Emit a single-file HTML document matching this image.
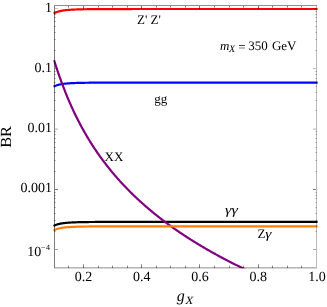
<!DOCTYPE html>
<html><head><meta charset="utf-8"><title>BR plot</title>
<style>
html,body{margin:0;padding:0;background:#fff;}
body{width:327px;height:307px;overflow:hidden;position:relative;font-family:"Liberation Serif",serif;}
</style></head><body>
<svg width="327" height="307" viewBox="0 0 327 307" style="position:absolute;left:0;top:0">
<rect width="327" height="307" fill="#fff"/>
<defs><clipPath id="cp"><rect x="53.3" y="5" width="264.5" height="263.2"/></clipPath></defs>
<g fill="none" stroke-width="2.2" stroke-linecap="butt" stroke-linejoin="round">
<path d="M53.60 13.58 L54.40 13.18 L55.05 12.84 L55.71 12.54 L56.36 12.27 L57.02 12.02 L57.67 11.79 L58.33 11.59 L58.98 11.40 L59.64 11.23 L60.29 11.07 L60.95 10.93 L61.60 10.80 L62.26 10.68 L62.91 10.57 L63.57 10.46 L64.22 10.37 L64.88 10.28 L65.53 10.20 L66.19 10.13 L66.84 10.06 L67.50 10.00 L68.15 9.94 L68.81 9.88 L69.46 9.83 L70.12 9.79 L70.77 9.74 L71.43 9.70 L72.08 9.66 L72.74 9.63 L73.39 9.60 L74.05 9.56 L74.70 9.54 L75.36 9.51 L76.01 9.48 L76.67 9.46 L77.32 9.44 L77.98 9.42 L78.63 9.40 L79.29 9.38 L79.94 9.36 L80.60 9.34 L81.25 9.33 L81.91 9.31 L82.56 9.30 L83.22 9.28 L83.87 9.27 L84.53 9.26 L85.18 9.25 L85.84 9.24 L86.49 9.23 L87.15 9.22 L87.80 9.21 L88.46 9.20 L89.11 9.19 L89.77 9.19 L90.42 9.18 L91.08 9.17 L91.73 9.16 L92.39 9.16 L93.04 9.15 L93.70 9.15 L94.35 9.14 L95.01 9.14 L95.66 9.13 L96.32 9.13 L96.97 9.12 L97.63 9.12 L98.28 9.11 L98.94 9.11 L99.59 9.11 L100.25 9.10 L100.90 9.10 L101.56 9.10 L102.21 9.09 L102.87 9.09 L103.52 9.09 L104.18 9.08 L104.83 9.08 L105.49 9.08 L106.14 9.08 L106.80 9.07 L107.45 9.07 L108.11 9.07 L108.76 9.07 L109.42 9.06 L110.07 9.06 L110.73 9.06 L111.38 9.06 L112.04 9.06 L112.69 9.06 L113.35 9.05 L114.00 9.05 L114.66 9.05 L115.31 9.05 L115.97 9.05 L116.62 9.05 L117.28 9.04 L117.93 9.04 L118.59 9.04 L119.24 9.04 L119.90 9.04 L120.55 9.04 L121.21 9.04 L121.86 9.04 L122.52 9.04 L123.17 9.04 L123.83 9.03 L124.48 9.03 L125.14 9.03 L125.79 9.03 L126.45 9.03 L127.10 9.03 L127.76 9.03 L128.41 9.03 L129.07 9.03 L129.72 9.03 L130.38 9.03 L131.03 9.03 L131.69 9.03 L132.34 9.02 L133.00 9.02 L133.65 9.02 L134.31 9.02 L134.96 9.02 L135.62 9.02 L136.27 9.02 L136.93 9.02 L137.58 9.02 L138.24 9.02 L138.89 9.02 L139.55 9.02 L140.20 9.02 L140.86 9.02 L141.51 9.02 L142.17 9.02 L142.82 9.02 L143.48 9.02 L144.13 9.02 L144.79 9.02 L145.44 9.02 L146.10 9.02 L146.75 9.01 L147.41 9.01 L148.06 9.01 L148.72 9.01 L149.37 9.01 L150.03 9.01 L150.68 9.01 L151.34 9.01 L151.99 9.01 L152.65 9.01 L153.30 9.01 L153.96 9.01 L154.61 9.01 L155.27 9.01 L155.92 9.01 L156.58 9.01 L157.23 9.01 L157.89 9.01 L158.54 9.01 L159.20 9.01 L159.85 9.01 L160.51 9.01 L161.16 9.01 L161.82 9.01 L162.47 9.01 L163.13 9.01 L163.78 9.01 L164.44 9.01 L165.09 9.01 L165.75 9.01 L166.40 9.01 L167.06 9.01 L167.71 9.01 L168.37 9.01 L169.02 9.01 L169.68 9.01 L170.33 9.01 L170.99 9.01 L171.64 9.01 L172.30 9.01 L172.95 9.01 L173.61 9.01 L174.26 9.01 L174.92 9.01 L175.57 9.01 L176.23 9.01 L176.88 9.01 L177.54 9.01 L178.19 9.01 L178.85 9.01 L179.50 9.01 L180.16 9.01 L180.81 9.01 L181.47 9.01 L182.12 9.01 L182.78 9.01 L183.43 9.01 L184.09 9.01 L184.74 9.00 L185.40 9.00 L186.05 9.00 L186.70 9.00 L187.36 9.00 L188.01 9.00 L188.67 9.00 L189.32 9.00 L189.98 9.00 L190.63 9.00 L191.29 9.00 L191.94 9.00 L192.60 9.00 L193.25 9.00 L193.91 9.00 L194.56 9.00 L195.22 9.00 L195.87 9.00 L196.53 9.00 L197.18 9.00 L197.84 9.00 L198.49 9.00 L199.15 9.00 L199.80 9.00 L200.46 9.00 L201.11 9.00 L201.77 9.00 L202.42 9.00 L203.08 9.00 L203.73 9.00 L204.39 9.00 L205.04 9.00 L205.70 9.00 L206.35 9.00 L207.01 9.00 L207.66 9.00 L208.32 9.00 L208.97 9.00 L209.63 9.00 L210.28 9.00 L210.94 9.00 L211.59 9.00 L212.25 9.00 L212.90 9.00 L213.56 9.00 L214.21 9.00 L214.87 9.00 L215.52 9.00 L216.18 9.00 L216.83 9.00 L217.49 9.00 L218.14 9.00 L218.80 9.00 L219.45 9.00 L220.11 9.00 L220.76 9.00 L221.42 9.00 L222.07 9.00 L222.73 9.00 L223.38 9.00 L224.04 9.00 L224.69 9.00 L225.35 9.00 L226.00 9.00 L226.66 9.00 L227.31 9.00 L227.97 9.00 L228.62 9.00 L229.28 9.00 L229.93 9.00 L230.59 9.00 L231.24 9.00 L231.90 9.00 L232.55 9.00 L233.21 9.00 L233.86 9.00 L234.52 9.00 L235.17 9.00 L235.83 9.00 L236.48 9.00 L237.14 9.00 L237.79 9.00 L238.45 9.00 L239.10 9.00 L239.76 9.00 L240.41 9.00 L241.07 9.00 L241.72 9.00 L242.38 9.00 L243.03 9.00 L243.69 9.00 L244.34 9.00 L245.00 9.00 L245.65 9.00 L246.31 9.00 L246.96 9.00 L247.62 9.00 L248.27 9.00 L248.93 9.00 L249.58 9.00 L250.24 9.00 L250.89 9.00 L251.55 9.00 L252.20 9.00 L252.86 9.00 L253.51 9.00 L254.17 9.00 L254.82 9.00 L255.48 9.00 L256.13 9.00 L256.79 9.00 L257.44 9.00 L258.10 9.00 L258.75 9.00 L259.41 9.00 L260.06 9.00 L260.72 9.00 L261.37 9.00 L262.03 9.00 L262.68 9.00 L263.34 9.00 L263.99 9.00 L264.65 9.00 L265.30 9.00 L265.96 9.00 L266.61 9.00 L267.27 9.00 L267.92 9.00 L268.58 9.00 L269.23 9.00 L269.89 9.00 L270.54 9.00 L271.20 9.00 L271.85 9.00 L272.51 9.00 L273.16 9.00 L273.82 9.00 L274.47 9.00 L275.13 9.00 L275.78 9.00 L276.44 9.00 L277.09 9.00 L277.75 9.00 L278.40 9.00 L279.06 9.00 L279.71 9.00 L280.37 9.00 L281.02 9.00 L281.68 9.00 L282.33 9.00 L282.99 9.00 L283.64 9.00 L284.30 9.00 L284.95 9.00 L285.61 9.00 L286.26 9.00 L286.92 9.00 L287.57 9.00 L288.23 9.00 L288.88 9.00 L289.54 9.00 L290.19 9.00 L290.85 9.00 L291.50 9.00 L292.16 9.00 L292.81 9.00 L293.47 9.00 L294.12 9.00 L294.78 9.00 L295.43 9.00 L296.09 9.00 L296.74 9.00 L297.40 9.00 L298.05 9.00 L298.71 9.00 L299.36 9.00 L300.02 9.00 L300.67 9.00 L301.33 9.00 L301.98 9.00 L302.64 9.00 L303.29 9.00 L303.95 9.00 L304.60 9.00 L305.26 9.00 L305.91 9.00 L306.57 9.00 L307.22 9.00 L307.88 9.00 L308.53 9.00 L309.19 9.00 L309.84 9.00 L310.50 9.00 L311.15 9.00 L311.81 9.00 L312.46 9.00 L313.12 9.00 L313.77 9.00 L314.43 9.00 L315.08 9.00 L315.74 9.00 L316.39 9.00 L317.60 9.00" stroke="#ff0000"/>
<path d="M53.60 86.64 L54.40 86.28 L55.05 85.98 L55.71 85.71 L56.36 85.47 L57.02 85.24 L57.67 85.04 L58.33 84.86 L58.98 84.69 L59.64 84.54 L60.29 84.40 L60.95 84.27 L61.60 84.15 L62.26 84.05 L62.91 83.95 L63.57 83.86 L64.22 83.77 L64.88 83.70 L65.53 83.62 L66.19 83.56 L66.84 83.50 L67.50 83.44 L68.15 83.39 L68.81 83.34 L69.46 83.29 L70.12 83.25 L70.77 83.21 L71.43 83.18 L72.08 83.14 L72.74 83.11 L73.39 83.08 L74.05 83.05 L74.70 83.03 L75.36 83.00 L76.01 82.98 L76.67 82.96 L77.32 82.94 L77.98 82.92 L78.63 82.90 L79.29 82.89 L79.94 82.87 L80.60 82.86 L81.25 82.84 L81.91 82.83 L82.56 82.82 L83.22 82.80 L83.87 82.79 L84.53 82.78 L85.18 82.77 L85.84 82.76 L86.49 82.75 L87.15 82.75 L87.80 82.74 L88.46 82.73 L89.11 82.72 L89.77 82.72 L90.42 82.71 L91.08 82.70 L91.73 82.70 L92.39 82.69 L93.04 82.69 L93.70 82.68 L94.35 82.68 L95.01 82.67 L95.66 82.67 L96.32 82.66 L96.97 82.66 L97.63 82.65 L98.28 82.65 L98.94 82.65 L99.59 82.64 L100.25 82.64 L100.90 82.64 L101.56 82.63 L102.21 82.63 L102.87 82.63 L103.52 82.63 L104.18 82.62 L104.83 82.62 L105.49 82.62 L106.14 82.62 L106.80 82.62 L107.45 82.61 L108.11 82.61 L108.76 82.61 L109.42 82.61 L110.07 82.61 L110.73 82.60 L111.38 82.60 L112.04 82.60 L112.69 82.60 L113.35 82.60 L114.00 82.60 L114.66 82.60 L115.31 82.59 L115.97 82.59 L116.62 82.59 L117.28 82.59 L117.93 82.59 L118.59 82.59 L119.24 82.59 L119.90 82.59 L120.55 82.58 L121.21 82.58 L121.86 82.58 L122.52 82.58 L123.17 82.58 L123.83 82.58 L124.48 82.58 L125.14 82.58 L125.79 82.58 L126.45 82.58 L127.10 82.58 L127.76 82.58 L128.41 82.58 L129.07 82.57 L129.72 82.57 L130.38 82.57 L131.03 82.57 L131.69 82.57 L132.34 82.57 L133.00 82.57 L133.65 82.57 L134.31 82.57 L134.96 82.57 L135.62 82.57 L136.27 82.57 L136.93 82.57 L137.58 82.57 L138.24 82.57 L138.89 82.57 L139.55 82.57 L140.20 82.57 L140.86 82.57 L141.51 82.57 L142.17 82.57 L142.82 82.57 L143.48 82.56 L144.13 82.56 L144.79 82.56 L145.44 82.56 L146.10 82.56 L146.75 82.56 L147.41 82.56 L148.06 82.56 L148.72 82.56 L149.37 82.56 L150.03 82.56 L150.68 82.56 L151.34 82.56 L151.99 82.56 L152.65 82.56 L153.30 82.56 L153.96 82.56 L154.61 82.56 L155.27 82.56 L155.92 82.56 L156.58 82.56 L157.23 82.56 L157.89 82.56 L158.54 82.56 L159.20 82.56 L159.85 82.56 L160.51 82.56 L161.16 82.56 L161.82 82.56 L162.47 82.56 L163.13 82.56 L163.78 82.56 L164.44 82.56 L165.09 82.56 L165.75 82.56 L166.40 82.56 L167.06 82.56 L167.71 82.56 L168.37 82.56 L169.02 82.56 L169.68 82.56 L170.33 82.56 L170.99 82.56 L171.64 82.56 L172.30 82.56 L172.95 82.56 L173.61 82.56 L174.26 82.56 L174.92 82.56 L175.57 82.56 L176.23 82.56 L176.88 82.56 L177.54 82.56 L178.19 82.56 L178.85 82.56 L179.50 82.56 L180.16 82.56 L180.81 82.55 L181.47 82.55 L182.12 82.55 L182.78 82.55 L183.43 82.55 L184.09 82.55 L184.74 82.55 L185.40 82.55 L186.05 82.55 L186.70 82.55 L187.36 82.55 L188.01 82.55 L188.67 82.55 L189.32 82.55 L189.98 82.55 L190.63 82.55 L191.29 82.55 L191.94 82.55 L192.60 82.55 L193.25 82.55 L193.91 82.55 L194.56 82.55 L195.22 82.55 L195.87 82.55 L196.53 82.55 L197.18 82.55 L197.84 82.55 L198.49 82.55 L199.15 82.55 L199.80 82.55 L200.46 82.55 L201.11 82.55 L201.77 82.55 L202.42 82.55 L203.08 82.55 L203.73 82.55 L204.39 82.55 L205.04 82.55 L205.70 82.55 L206.35 82.55 L207.01 82.55 L207.66 82.55 L208.32 82.55 L208.97 82.55 L209.63 82.55 L210.28 82.55 L210.94 82.55 L211.59 82.55 L212.25 82.55 L212.90 82.55 L213.56 82.55 L214.21 82.55 L214.87 82.55 L215.52 82.55 L216.18 82.55 L216.83 82.55 L217.49 82.55 L218.14 82.55 L218.80 82.55 L219.45 82.55 L220.11 82.55 L220.76 82.55 L221.42 82.55 L222.07 82.55 L222.73 82.55 L223.38 82.55 L224.04 82.55 L224.69 82.55 L225.35 82.55 L226.00 82.55 L226.66 82.55 L227.31 82.55 L227.97 82.55 L228.62 82.55 L229.28 82.55 L229.93 82.55 L230.59 82.55 L231.24 82.55 L231.90 82.55 L232.55 82.55 L233.21 82.55 L233.86 82.55 L234.52 82.55 L235.17 82.55 L235.83 82.55 L236.48 82.55 L237.14 82.55 L237.79 82.55 L238.45 82.55 L239.10 82.55 L239.76 82.55 L240.41 82.55 L241.07 82.55 L241.72 82.55 L242.38 82.55 L243.03 82.55 L243.69 82.55 L244.34 82.55 L245.00 82.55 L245.65 82.55 L246.31 82.55 L246.96 82.55 L247.62 82.55 L248.27 82.55 L248.93 82.55 L249.58 82.55 L250.24 82.55 L250.89 82.55 L251.55 82.55 L252.20 82.55 L252.86 82.55 L253.51 82.55 L254.17 82.55 L254.82 82.55 L255.48 82.55 L256.13 82.55 L256.79 82.55 L257.44 82.55 L258.10 82.55 L258.75 82.55 L259.41 82.55 L260.06 82.55 L260.72 82.55 L261.37 82.55 L262.03 82.55 L262.68 82.55 L263.34 82.55 L263.99 82.55 L264.65 82.55 L265.30 82.55 L265.96 82.55 L266.61 82.55 L267.27 82.55 L267.92 82.55 L268.58 82.55 L269.23 82.55 L269.89 82.55 L270.54 82.55 L271.20 82.55 L271.85 82.55 L272.51 82.55 L273.16 82.55 L273.82 82.55 L274.47 82.55 L275.13 82.55 L275.78 82.55 L276.44 82.55 L277.09 82.55 L277.75 82.55 L278.40 82.55 L279.06 82.55 L279.71 82.55 L280.37 82.55 L281.02 82.55 L281.68 82.55 L282.33 82.55 L282.99 82.55 L283.64 82.55 L284.30 82.55 L284.95 82.55 L285.61 82.55 L286.26 82.55 L286.92 82.55 L287.57 82.55 L288.23 82.55 L288.88 82.55 L289.54 82.55 L290.19 82.55 L290.85 82.55 L291.50 82.55 L292.16 82.55 L292.81 82.55 L293.47 82.55 L294.12 82.55 L294.78 82.55 L295.43 82.55 L296.09 82.55 L296.74 82.55 L297.40 82.55 L298.05 82.55 L298.71 82.55 L299.36 82.55 L300.02 82.55 L300.67 82.55 L301.33 82.55 L301.98 82.55 L302.64 82.55 L303.29 82.55 L303.95 82.55 L304.60 82.55 L305.26 82.55 L305.91 82.55 L306.57 82.55 L307.22 82.55 L307.88 82.55 L308.53 82.55 L309.19 82.55 L309.84 82.55 L310.50 82.55 L311.15 82.55 L311.81 82.55 L312.46 82.55 L313.12 82.55 L313.77 82.55 L314.43 82.55 L315.08 82.55 L315.74 82.55 L316.39 82.55 L317.60 82.55" stroke="#0000ff"/>
<path d="M53.60 225.94 L54.40 225.58 L55.05 225.28 L55.71 225.01 L56.36 224.77 L57.02 224.54 L57.67 224.34 L58.33 224.16 L58.98 223.99 L59.64 223.84 L60.29 223.70 L60.95 223.57 L61.60 223.45 L62.26 223.35 L62.91 223.25 L63.57 223.16 L64.22 223.07 L64.88 223.00 L65.53 222.92 L66.19 222.86 L66.84 222.80 L67.50 222.74 L68.15 222.69 L68.81 222.64 L69.46 222.59 L70.12 222.55 L70.77 222.51 L71.43 222.48 L72.08 222.44 L72.74 222.41 L73.39 222.38 L74.05 222.35 L74.70 222.33 L75.36 222.30 L76.01 222.28 L76.67 222.26 L77.32 222.24 L77.98 222.22 L78.63 222.20 L79.29 222.19 L79.94 222.17 L80.60 222.16 L81.25 222.14 L81.91 222.13 L82.56 222.12 L83.22 222.10 L83.87 222.09 L84.53 222.08 L85.18 222.07 L85.84 222.06 L86.49 222.05 L87.15 222.05 L87.80 222.04 L88.46 222.03 L89.11 222.02 L89.77 222.02 L90.42 222.01 L91.08 222.00 L91.73 222.00 L92.39 221.99 L93.04 221.99 L93.70 221.98 L94.35 221.98 L95.01 221.97 L95.66 221.97 L96.32 221.96 L96.97 221.96 L97.63 221.95 L98.28 221.95 L98.94 221.95 L99.59 221.94 L100.25 221.94 L100.90 221.94 L101.56 221.93 L102.21 221.93 L102.87 221.93 L103.52 221.93 L104.18 221.92 L104.83 221.92 L105.49 221.92 L106.14 221.92 L106.80 221.92 L107.45 221.91 L108.11 221.91 L108.76 221.91 L109.42 221.91 L110.07 221.91 L110.73 221.90 L111.38 221.90 L112.04 221.90 L112.69 221.90 L113.35 221.90 L114.00 221.90 L114.66 221.90 L115.31 221.89 L115.97 221.89 L116.62 221.89 L117.28 221.89 L117.93 221.89 L118.59 221.89 L119.24 221.89 L119.90 221.89 L120.55 221.88 L121.21 221.88 L121.86 221.88 L122.52 221.88 L123.17 221.88 L123.83 221.88 L124.48 221.88 L125.14 221.88 L125.79 221.88 L126.45 221.88 L127.10 221.88 L127.76 221.88 L128.41 221.88 L129.07 221.87 L129.72 221.87 L130.38 221.87 L131.03 221.87 L131.69 221.87 L132.34 221.87 L133.00 221.87 L133.65 221.87 L134.31 221.87 L134.96 221.87 L135.62 221.87 L136.27 221.87 L136.93 221.87 L137.58 221.87 L138.24 221.87 L138.89 221.87 L139.55 221.87 L140.20 221.87 L140.86 221.87 L141.51 221.87 L142.17 221.87 L142.82 221.87 L143.48 221.86 L144.13 221.86 L144.79 221.86 L145.44 221.86 L146.10 221.86 L146.75 221.86 L147.41 221.86 L148.06 221.86 L148.72 221.86 L149.37 221.86 L150.03 221.86 L150.68 221.86 L151.34 221.86 L151.99 221.86 L152.65 221.86 L153.30 221.86 L153.96 221.86 L154.61 221.86 L155.27 221.86 L155.92 221.86 L156.58 221.86 L157.23 221.86 L157.89 221.86 L158.54 221.86 L159.20 221.86 L159.85 221.86 L160.51 221.86 L161.16 221.86 L161.82 221.86 L162.47 221.86 L163.13 221.86 L163.78 221.86 L164.44 221.86 L165.09 221.86 L165.75 221.86 L166.40 221.86 L167.06 221.86 L167.71 221.86 L168.37 221.86 L169.02 221.86 L169.68 221.86 L170.33 221.86 L170.99 221.86 L171.64 221.86 L172.30 221.86 L172.95 221.86 L173.61 221.86 L174.26 221.86 L174.92 221.86 L175.57 221.86 L176.23 221.86 L176.88 221.86 L177.54 221.86 L178.19 221.86 L178.85 221.86 L179.50 221.86 L180.16 221.86 L180.81 221.85 L181.47 221.85 L182.12 221.85 L182.78 221.85 L183.43 221.85 L184.09 221.85 L184.74 221.85 L185.40 221.85 L186.05 221.85 L186.70 221.85 L187.36 221.85 L188.01 221.85 L188.67 221.85 L189.32 221.85 L189.98 221.85 L190.63 221.85 L191.29 221.85 L191.94 221.85 L192.60 221.85 L193.25 221.85 L193.91 221.85 L194.56 221.85 L195.22 221.85 L195.87 221.85 L196.53 221.85 L197.18 221.85 L197.84 221.85 L198.49 221.85 L199.15 221.85 L199.80 221.85 L200.46 221.85 L201.11 221.85 L201.77 221.85 L202.42 221.85 L203.08 221.85 L203.73 221.85 L204.39 221.85 L205.04 221.85 L205.70 221.85 L206.35 221.85 L207.01 221.85 L207.66 221.85 L208.32 221.85 L208.97 221.85 L209.63 221.85 L210.28 221.85 L210.94 221.85 L211.59 221.85 L212.25 221.85 L212.90 221.85 L213.56 221.85 L214.21 221.85 L214.87 221.85 L215.52 221.85 L216.18 221.85 L216.83 221.85 L217.49 221.85 L218.14 221.85 L218.80 221.85 L219.45 221.85 L220.11 221.85 L220.76 221.85 L221.42 221.85 L222.07 221.85 L222.73 221.85 L223.38 221.85 L224.04 221.85 L224.69 221.85 L225.35 221.85 L226.00 221.85 L226.66 221.85 L227.31 221.85 L227.97 221.85 L228.62 221.85 L229.28 221.85 L229.93 221.85 L230.59 221.85 L231.24 221.85 L231.90 221.85 L232.55 221.85 L233.21 221.85 L233.86 221.85 L234.52 221.85 L235.17 221.85 L235.83 221.85 L236.48 221.85 L237.14 221.85 L237.79 221.85 L238.45 221.85 L239.10 221.85 L239.76 221.85 L240.41 221.85 L241.07 221.85 L241.72 221.85 L242.38 221.85 L243.03 221.85 L243.69 221.85 L244.34 221.85 L245.00 221.85 L245.65 221.85 L246.31 221.85 L246.96 221.85 L247.62 221.85 L248.27 221.85 L248.93 221.85 L249.58 221.85 L250.24 221.85 L250.89 221.85 L251.55 221.85 L252.20 221.85 L252.86 221.85 L253.51 221.85 L254.17 221.85 L254.82 221.85 L255.48 221.85 L256.13 221.85 L256.79 221.85 L257.44 221.85 L258.10 221.85 L258.75 221.85 L259.41 221.85 L260.06 221.85 L260.72 221.85 L261.37 221.85 L262.03 221.85 L262.68 221.85 L263.34 221.85 L263.99 221.85 L264.65 221.85 L265.30 221.85 L265.96 221.85 L266.61 221.85 L267.27 221.85 L267.92 221.85 L268.58 221.85 L269.23 221.85 L269.89 221.85 L270.54 221.85 L271.20 221.85 L271.85 221.85 L272.51 221.85 L273.16 221.85 L273.82 221.85 L274.47 221.85 L275.13 221.85 L275.78 221.85 L276.44 221.85 L277.09 221.85 L277.75 221.85 L278.40 221.85 L279.06 221.85 L279.71 221.85 L280.37 221.85 L281.02 221.85 L281.68 221.85 L282.33 221.85 L282.99 221.85 L283.64 221.85 L284.30 221.85 L284.95 221.85 L285.61 221.85 L286.26 221.85 L286.92 221.85 L287.57 221.85 L288.23 221.85 L288.88 221.85 L289.54 221.85 L290.19 221.85 L290.85 221.85 L291.50 221.85 L292.16 221.85 L292.81 221.85 L293.47 221.85 L294.12 221.85 L294.78 221.85 L295.43 221.85 L296.09 221.85 L296.74 221.85 L297.40 221.85 L298.05 221.85 L298.71 221.85 L299.36 221.85 L300.02 221.85 L300.67 221.85 L301.33 221.85 L301.98 221.85 L302.64 221.85 L303.29 221.85 L303.95 221.85 L304.60 221.85 L305.26 221.85 L305.91 221.85 L306.57 221.85 L307.22 221.85 L307.88 221.85 L308.53 221.85 L309.19 221.85 L309.84 221.85 L310.50 221.85 L311.15 221.85 L311.81 221.85 L312.46 221.85 L313.12 221.85 L313.77 221.85 L314.43 221.85 L315.08 221.85 L315.74 221.85 L316.39 221.85 L317.60 221.85" stroke="#000000"/>
<path d="M54.05 60.20 L54.40 61.29 L54.88 62.78 L55.36 64.27 L55.84 65.73 L56.32 67.19 L56.80 68.63 L57.28 70.06 L57.76 71.48 L58.24 72.88 L58.72 74.27 L59.20 75.65 L59.68 77.01 L60.16 78.36 L60.64 79.70 L61.12 81.02 L61.60 82.33 L62.09 83.63 L62.57 84.91 L63.05 86.18 L63.53 87.44 L64.01 88.69 L64.49 89.92 L64.97 91.14 L65.45 92.35 L65.93 93.54 L66.41 94.73 L66.89 95.90 L67.37 97.06 L67.85 98.21 L68.33 99.35 L68.81 100.48 L69.29 101.59 L69.77 102.70 L70.25 103.79 L70.73 104.88 L71.21 105.95 L71.69 107.02 L72.17 108.07 L72.65 109.12 L73.13 110.15 L73.61 111.18 L74.09 112.19 L74.57 113.20 L75.05 114.20 L75.53 115.18 L76.01 116.17 L76.49 117.14 L76.97 118.10 L77.46 119.05 L77.94 120.00 L78.42 120.94 L78.90 121.87 L79.38 122.79 L79.86 123.71 L80.34 124.61 L80.82 125.51 L81.30 126.40 L81.78 127.29 L82.26 128.17 L82.74 129.04 L83.22 129.90 L83.70 130.76 L84.18 131.61 L84.66 132.45 L85.14 133.29 L85.62 134.12 L86.10 134.94 L86.58 135.76 L87.06 136.57 L87.54 137.38 L88.02 138.18 L88.50 138.97 L88.98 139.76 L89.46 140.54 L89.94 141.31 L90.42 142.09 L90.90 142.85 L91.38 143.61 L91.86 144.36 L92.34 145.11 L92.83 145.86 L93.31 146.60 L93.79 147.33 L94.27 148.06 L94.75 148.78 L95.23 149.50 L95.71 150.21 L96.19 150.92 L96.67 151.63 L97.15 152.33 L97.63 153.02 L98.11 153.71 L98.59 154.40 L99.07 155.08 L99.55 155.76 L100.03 156.43 L100.51 157.10 L100.99 157.76 L101.47 158.42 L101.95 159.08 L102.43 159.73 L102.91 160.38 L103.39 161.02 L103.87 161.66 L104.35 162.30 L104.83 162.93 L105.31 163.56 L105.79 164.19 L106.27 164.81 L106.75 165.43 L107.23 166.04 L107.71 166.65 L108.20 167.26 L108.68 167.86 L109.16 168.46 L109.64 169.06 L110.12 169.65 L110.60 170.24 L111.08 170.83 L111.56 171.41 L112.04 171.99 L112.52 172.57 L113.00 173.15 L113.48 173.72 L113.96 174.29 L114.44 174.85 L114.92 175.41 L115.40 175.97 L115.88 176.53 L116.36 177.08 L116.84 177.63 L117.32 178.18 L117.80 178.72 L118.28 179.26 L118.76 179.80 L119.24 180.34 L119.72 180.87 L120.20 181.40 L120.68 181.93 L121.16 182.46 L121.64 182.98 L122.12 183.50 L122.60 184.02 L123.09 184.53 L123.57 185.04 L124.05 185.55 L124.53 186.06 L125.01 186.57 L125.49 187.07 L125.97 187.57 L126.45 188.07 L126.93 188.56 L127.41 189.06 L127.89 189.55 L128.37 190.04 L128.85 190.52 L129.33 191.01 L129.81 191.49 L130.29 191.97 L130.77 192.45 L131.25 192.92 L131.73 193.40 L132.21 193.87 L132.69 194.34 L133.17 194.80 L133.65 195.27 L134.13 195.73 L134.61 196.19 L135.09 196.65 L135.57 197.11 L136.05 197.56 L136.53 198.02 L137.01 198.47 L137.49 198.92 L137.97 199.36 L138.46 199.81 L138.94 200.25 L139.42 200.69 L139.90 201.13 L140.38 201.57 L140.86 202.01 L141.34 202.44 L141.82 202.87 L142.30 203.30 L142.78 203.73 L143.26 204.16 L143.74 204.59 L144.22 205.01 L144.70 205.43 L145.18 205.85 L145.66 206.27 L146.14 206.69 L146.62 207.10 L147.10 207.52 L147.58 207.93 L148.06 208.34 L148.54 208.75 L149.02 209.16 L149.50 209.56 L149.98 209.96 L150.46 210.37 L150.94 210.77 L151.42 211.17 L151.90 211.57 L152.38 211.96 L152.86 212.36 L153.34 212.75 L153.83 213.14 L154.31 213.53 L154.79 213.92 L155.27 214.31 L155.75 214.70 L156.23 215.08 L156.71 215.46 L157.19 215.85 L157.67 216.23 L158.15 216.61 L158.63 216.98 L159.11 217.36 L159.59 217.74 L160.07 218.11 L160.55 218.48 L161.03 218.85 L161.51 219.22 L161.99 219.59 L162.47 219.96 L162.95 220.33 L163.43 220.69 L163.91 221.05 L164.39 221.42 L164.87 221.78 L165.35 222.14 L165.83 222.50 L166.31 222.85 L166.79 223.21 L167.27 223.56 L167.75 223.92 L168.23 224.27 L168.71 224.62 L169.20 224.97 L169.68 225.32 L170.16 225.67 L170.64 226.01 L171.12 226.36 L171.60 226.70 L172.08 227.05 L172.56 227.39 L173.04 227.73 L173.52 228.07 L174.00 228.41 L174.48 228.75 L174.96 229.08 L175.44 229.42 L175.92 229.75 L176.40 230.09 L176.88 230.42 L177.36 230.75 L177.84 231.08 L178.32 231.41 L178.80 231.74 L179.28 232.07 L179.76 232.39 L180.24 232.72 L180.72 233.04 L181.20 233.36 L181.68 233.69 L182.16 234.01 L182.64 234.33 L183.12 234.65 L183.60 234.97 L184.09 235.28 L184.57 235.60 L185.05 235.91 L185.53 236.23 L186.01 236.54 L186.49 236.85 L186.97 237.17 L187.45 237.48 L187.93 237.79 L188.41 238.10 L188.89 238.40 L189.37 238.71 L189.85 239.02 L190.33 239.32 L190.81 239.63 L191.29 239.93 L191.77 240.23 L192.25 240.53 L192.73 240.84 L193.21 241.14 L193.69 241.43 L194.17 241.73 L194.65 242.03 L195.13 242.33 L195.61 242.62 L196.09 242.92 L196.57 243.21 L197.05 243.50 L197.53 243.80 L198.01 244.09 L198.49 244.38 L198.97 244.67 L199.46 244.96 L199.94 245.25 L200.42 245.54 L200.90 245.82 L201.38 246.11 L201.86 246.39 L202.34 246.68 L202.82 246.96 L203.30 247.24 L203.78 247.53 L204.26 247.81 L204.74 248.09 L205.22 248.37 L205.70 248.65 L206.18 248.93 L206.66 249.20 L207.14 249.48 L207.62 249.76 L208.10 250.03 L208.58 250.31 L209.06 250.58 L209.54 250.86 L210.02 251.13 L210.50 251.40 L210.98 251.67 L211.46 251.94 L211.94 252.21 L212.42 252.48 L212.90 252.75 L213.38 253.02 L213.86 253.28 L214.34 253.55 L214.83 253.82 L215.31 254.08 L215.79 254.35 L216.27 254.61 L216.75 254.87 L217.23 255.14 L217.71 255.40 L218.19 255.66 L218.67 255.92 L219.15 256.18 L219.63 256.44 L220.11 256.70 L220.59 256.95 L221.07 257.21 L221.55 257.47 L222.03 257.72 L222.51 257.98 L222.99 258.24 L223.47 258.49 L223.95 258.74 L224.43 259.00 L224.91 259.25 L225.39 259.50 L225.87 259.75 L226.35 260.00 L226.83 260.25 L227.31 260.50 L227.79 260.75 L228.27 261.00 L228.75 261.25 L229.23 261.49 L229.71 261.74 L230.20 261.98 L230.68 262.23 L231.16 262.47 L231.64 262.72 L232.12 262.96 L232.60 263.20 L233.08 263.45 L233.56 263.69 L234.04 263.93 L234.52 264.17 L235.00 264.41 L235.48 264.65 L235.96 264.89 L236.44 265.13 L236.92 265.37 L237.40 265.60 L237.88 265.84 L238.36 266.08 L238.84 266.31 L239.32 266.55 L239.80 266.78 L240.28 267.02 L240.76 267.25 L241.24 267.48 L241.72 267.72 L242.20 267.95 L242.68 268.18 L243.16 268.41 L243.64 268.64 L244.12 268.87 L244.60 269.10 L245.09 269.33 L245.57 269.56 L246.05 269.79 L246.53 270.02" stroke="#800080" clip-path="url(#cp)"/>
<path d="M53.60 230.39 L54.40 230.03 L55.05 229.73 L55.71 229.46 L56.36 229.22 L57.02 228.99 L57.67 228.79 L58.33 228.61 L58.98 228.44 L59.64 228.29 L60.29 228.15 L60.95 228.02 L61.60 227.90 L62.26 227.80 L62.91 227.70 L63.57 227.61 L64.22 227.52 L64.88 227.45 L65.53 227.37 L66.19 227.31 L66.84 227.25 L67.50 227.19 L68.15 227.14 L68.81 227.09 L69.46 227.04 L70.12 227.00 L70.77 226.96 L71.43 226.93 L72.08 226.89 L72.74 226.86 L73.39 226.83 L74.05 226.80 L74.70 226.78 L75.36 226.75 L76.01 226.73 L76.67 226.71 L77.32 226.69 L77.98 226.67 L78.63 226.65 L79.29 226.64 L79.94 226.62 L80.60 226.61 L81.25 226.59 L81.91 226.58 L82.56 226.57 L83.22 226.55 L83.87 226.54 L84.53 226.53 L85.18 226.52 L85.84 226.51 L86.49 226.50 L87.15 226.50 L87.80 226.49 L88.46 226.48 L89.11 226.47 L89.77 226.47 L90.42 226.46 L91.08 226.45 L91.73 226.45 L92.39 226.44 L93.04 226.44 L93.70 226.43 L94.35 226.43 L95.01 226.42 L95.66 226.42 L96.32 226.41 L96.97 226.41 L97.63 226.40 L98.28 226.40 L98.94 226.40 L99.59 226.39 L100.25 226.39 L100.90 226.39 L101.56 226.38 L102.21 226.38 L102.87 226.38 L103.52 226.38 L104.18 226.37 L104.83 226.37 L105.49 226.37 L106.14 226.37 L106.80 226.37 L107.45 226.36 L108.11 226.36 L108.76 226.36 L109.42 226.36 L110.07 226.36 L110.73 226.35 L111.38 226.35 L112.04 226.35 L112.69 226.35 L113.35 226.35 L114.00 226.35 L114.66 226.35 L115.31 226.34 L115.97 226.34 L116.62 226.34 L117.28 226.34 L117.93 226.34 L118.59 226.34 L119.24 226.34 L119.90 226.34 L120.55 226.33 L121.21 226.33 L121.86 226.33 L122.52 226.33 L123.17 226.33 L123.83 226.33 L124.48 226.33 L125.14 226.33 L125.79 226.33 L126.45 226.33 L127.10 226.33 L127.76 226.33 L128.41 226.33 L129.07 226.32 L129.72 226.32 L130.38 226.32 L131.03 226.32 L131.69 226.32 L132.34 226.32 L133.00 226.32 L133.65 226.32 L134.31 226.32 L134.96 226.32 L135.62 226.32 L136.27 226.32 L136.93 226.32 L137.58 226.32 L138.24 226.32 L138.89 226.32 L139.55 226.32 L140.20 226.32 L140.86 226.32 L141.51 226.32 L142.17 226.32 L142.82 226.32 L143.48 226.31 L144.13 226.31 L144.79 226.31 L145.44 226.31 L146.10 226.31 L146.75 226.31 L147.41 226.31 L148.06 226.31 L148.72 226.31 L149.37 226.31 L150.03 226.31 L150.68 226.31 L151.34 226.31 L151.99 226.31 L152.65 226.31 L153.30 226.31 L153.96 226.31 L154.61 226.31 L155.27 226.31 L155.92 226.31 L156.58 226.31 L157.23 226.31 L157.89 226.31 L158.54 226.31 L159.20 226.31 L159.85 226.31 L160.51 226.31 L161.16 226.31 L161.82 226.31 L162.47 226.31 L163.13 226.31 L163.78 226.31 L164.44 226.31 L165.09 226.31 L165.75 226.31 L166.40 226.31 L167.06 226.31 L167.71 226.31 L168.37 226.31 L169.02 226.31 L169.68 226.31 L170.33 226.31 L170.99 226.31 L171.64 226.31 L172.30 226.31 L172.95 226.31 L173.61 226.31 L174.26 226.31 L174.92 226.31 L175.57 226.31 L176.23 226.31 L176.88 226.31 L177.54 226.31 L178.19 226.31 L178.85 226.31 L179.50 226.31 L180.16 226.31 L180.81 226.30 L181.47 226.30 L182.12 226.30 L182.78 226.30 L183.43 226.30 L184.09 226.30 L184.74 226.30 L185.40 226.30 L186.05 226.30 L186.70 226.30 L187.36 226.30 L188.01 226.30 L188.67 226.30 L189.32 226.30 L189.98 226.30 L190.63 226.30 L191.29 226.30 L191.94 226.30 L192.60 226.30 L193.25 226.30 L193.91 226.30 L194.56 226.30 L195.22 226.30 L195.87 226.30 L196.53 226.30 L197.18 226.30 L197.84 226.30 L198.49 226.30 L199.15 226.30 L199.80 226.30 L200.46 226.30 L201.11 226.30 L201.77 226.30 L202.42 226.30 L203.08 226.30 L203.73 226.30 L204.39 226.30 L205.04 226.30 L205.70 226.30 L206.35 226.30 L207.01 226.30 L207.66 226.30 L208.32 226.30 L208.97 226.30 L209.63 226.30 L210.28 226.30 L210.94 226.30 L211.59 226.30 L212.25 226.30 L212.90 226.30 L213.56 226.30 L214.21 226.30 L214.87 226.30 L215.52 226.30 L216.18 226.30 L216.83 226.30 L217.49 226.30 L218.14 226.30 L218.80 226.30 L219.45 226.30 L220.11 226.30 L220.76 226.30 L221.42 226.30 L222.07 226.30 L222.73 226.30 L223.38 226.30 L224.04 226.30 L224.69 226.30 L225.35 226.30 L226.00 226.30 L226.66 226.30 L227.31 226.30 L227.97 226.30 L228.62 226.30 L229.28 226.30 L229.93 226.30 L230.59 226.30 L231.24 226.30 L231.90 226.30 L232.55 226.30 L233.21 226.30 L233.86 226.30 L234.52 226.30 L235.17 226.30 L235.83 226.30 L236.48 226.30 L237.14 226.30 L237.79 226.30 L238.45 226.30 L239.10 226.30 L239.76 226.30 L240.41 226.30 L241.07 226.30 L241.72 226.30 L242.38 226.30 L243.03 226.30 L243.69 226.30 L244.34 226.30 L245.00 226.30 L245.65 226.30 L246.31 226.30 L246.96 226.30 L247.62 226.30 L248.27 226.30 L248.93 226.30 L249.58 226.30 L250.24 226.30 L250.89 226.30 L251.55 226.30 L252.20 226.30 L252.86 226.30 L253.51 226.30 L254.17 226.30 L254.82 226.30 L255.48 226.30 L256.13 226.30 L256.79 226.30 L257.44 226.30 L258.10 226.30 L258.75 226.30 L259.41 226.30 L260.06 226.30 L260.72 226.30 L261.37 226.30 L262.03 226.30 L262.68 226.30 L263.34 226.30 L263.99 226.30 L264.65 226.30 L265.30 226.30 L265.96 226.30 L266.61 226.30 L267.27 226.30 L267.92 226.30 L268.58 226.30 L269.23 226.30 L269.89 226.30 L270.54 226.30 L271.20 226.30 L271.85 226.30 L272.51 226.30 L273.16 226.30 L273.82 226.30 L274.47 226.30 L275.13 226.30 L275.78 226.30 L276.44 226.30 L277.09 226.30 L277.75 226.30 L278.40 226.30 L279.06 226.30 L279.71 226.30 L280.37 226.30 L281.02 226.30 L281.68 226.30 L282.33 226.30 L282.99 226.30 L283.64 226.30 L284.30 226.30 L284.95 226.30 L285.61 226.30 L286.26 226.30 L286.92 226.30 L287.57 226.30 L288.23 226.30 L288.88 226.30 L289.54 226.30 L290.19 226.30 L290.85 226.30 L291.50 226.30 L292.16 226.30 L292.81 226.30 L293.47 226.30 L294.12 226.30 L294.78 226.30 L295.43 226.30 L296.09 226.30 L296.74 226.30 L297.40 226.30 L298.05 226.30 L298.71 226.30 L299.36 226.30 L300.02 226.30 L300.67 226.30 L301.33 226.30 L301.98 226.30 L302.64 226.30 L303.29 226.30 L303.95 226.30 L304.60 226.30 L305.26 226.30 L305.91 226.30 L306.57 226.30 L307.22 226.30 L307.88 226.30 L308.53 226.30 L309.19 226.30 L309.84 226.30 L310.50 226.30 L311.15 226.30 L311.81 226.30 L312.46 226.30 L313.12 226.30 L313.77 226.30 L314.43 226.30 L315.08 226.30 L315.74 226.30 L316.39 226.30 L317.60 226.30" stroke="#ff8000"/>
</g>
<g shape-rendering="crispEdges">
<rect x="54" y="6" width="1" height="262" fill-opacity="0.510"/>
<rect x="54" y="5" width="263" height="1" fill-opacity="0.439"/>
<rect x="316" y="6" width="1" height="261" fill-opacity="0.263"/>
<rect x="55" y="267" width="262" height="1" fill-opacity="0.282"/>
<rect x="54" y="268" width="263" height="1" fill-opacity="0.165"/>
</g>
<g shape-rendering="crispEdges">
<rect x="68" y="265" width="1" height="1" fill-opacity="0.157"/>
<rect x="68" y="266" width="1" height="1" fill-opacity="0.451"/>
<rect x="68" y="267" width="1" height="1" fill-opacity="0.471"/>
<rect x="68" y="6" width="1" height="1" fill-opacity="0.510"/>
<rect x="68" y="7" width="1" height="1" fill-opacity="0.314"/>
<rect x="83" y="264" width="1" height="1" fill-opacity="0.373"/>
<rect x="83" y="265" width="1" height="1" fill-opacity="0.451"/>
<rect x="83" y="266" width="1" height="1" fill-opacity="0.549"/>
<rect x="83" y="267" width="1" height="1" fill-opacity="0.490"/>
<rect x="83" y="6" width="1" height="2" fill-opacity="0.529"/>
<rect x="83" y="8" width="1" height="1" fill-opacity="0.471"/>
<rect x="98" y="265" width="1" height="1" fill-opacity="0.157"/>
<rect x="98" y="266" width="1" height="1" fill-opacity="0.451"/>
<rect x="98" y="267" width="1" height="1" fill-opacity="0.471"/>
<rect x="98" y="6" width="1" height="1" fill-opacity="0.510"/>
<rect x="98" y="7" width="1" height="1" fill-opacity="0.314"/>
<rect x="112" y="265" width="1" height="1" fill-opacity="0.157"/>
<rect x="112" y="266" width="1" height="1" fill-opacity="0.451"/>
<rect x="112" y="267" width="1" height="1" fill-opacity="0.471"/>
<rect x="112" y="6" width="1" height="1" fill-opacity="0.510"/>
<rect x="112" y="7" width="1" height="1" fill-opacity="0.314"/>
<rect x="127" y="265" width="1" height="1" fill-opacity="0.157"/>
<rect x="127" y="266" width="1" height="1" fill-opacity="0.451"/>
<rect x="127" y="267" width="1" height="1" fill-opacity="0.471"/>
<rect x="127" y="6" width="1" height="1" fill-opacity="0.510"/>
<rect x="127" y="7" width="1" height="1" fill-opacity="0.314"/>
<rect x="141" y="264" width="1" height="1" fill-opacity="0.373"/>
<rect x="141" y="265" width="1" height="1" fill-opacity="0.451"/>
<rect x="141" y="266" width="1" height="1" fill-opacity="0.549"/>
<rect x="141" y="267" width="1" height="1" fill-opacity="0.490"/>
<rect x="141" y="6" width="1" height="2" fill-opacity="0.529"/>
<rect x="141" y="8" width="1" height="1" fill-opacity="0.471"/>
<rect x="156" y="265" width="1" height="1" fill-opacity="0.157"/>
<rect x="156" y="266" width="1" height="1" fill-opacity="0.451"/>
<rect x="156" y="267" width="1" height="1" fill-opacity="0.471"/>
<rect x="156" y="6" width="1" height="1" fill-opacity="0.510"/>
<rect x="156" y="7" width="1" height="1" fill-opacity="0.314"/>
<rect x="170" y="265" width="1" height="1" fill-opacity="0.157"/>
<rect x="170" y="266" width="1" height="1" fill-opacity="0.451"/>
<rect x="170" y="267" width="1" height="1" fill-opacity="0.471"/>
<rect x="170" y="6" width="1" height="1" fill-opacity="0.510"/>
<rect x="170" y="7" width="1" height="1" fill-opacity="0.314"/>
<rect x="185" y="265" width="1" height="1" fill-opacity="0.157"/>
<rect x="185" y="266" width="1" height="1" fill-opacity="0.451"/>
<rect x="185" y="267" width="1" height="1" fill-opacity="0.471"/>
<rect x="185" y="6" width="1" height="1" fill-opacity="0.510"/>
<rect x="185" y="7" width="1" height="1" fill-opacity="0.314"/>
<rect x="199" y="264" width="1" height="1" fill-opacity="0.373"/>
<rect x="199" y="265" width="1" height="1" fill-opacity="0.451"/>
<rect x="199" y="266" width="1" height="1" fill-opacity="0.549"/>
<rect x="199" y="267" width="1" height="1" fill-opacity="0.490"/>
<rect x="199" y="6" width="1" height="2" fill-opacity="0.529"/>
<rect x="199" y="8" width="1" height="1" fill-opacity="0.471"/>
<rect x="214" y="265" width="1" height="1" fill-opacity="0.157"/>
<rect x="214" y="266" width="1" height="1" fill-opacity="0.451"/>
<rect x="214" y="267" width="1" height="1" fill-opacity="0.471"/>
<rect x="214" y="6" width="1" height="1" fill-opacity="0.510"/>
<rect x="214" y="7" width="1" height="1" fill-opacity="0.314"/>
<rect x="229" y="265" width="1" height="1" fill-opacity="0.157"/>
<rect x="229" y="266" width="1" height="1" fill-opacity="0.451"/>
<rect x="229" y="267" width="1" height="1" fill-opacity="0.471"/>
<rect x="229" y="6" width="1" height="1" fill-opacity="0.510"/>
<rect x="229" y="7" width="1" height="1" fill-opacity="0.314"/>
<rect x="243" y="265" width="1" height="1" fill-opacity="0.157"/>
<rect x="243" y="266" width="1" height="1" fill-opacity="0.451"/>
<rect x="243" y="267" width="1" height="1" fill-opacity="0.471"/>
<rect x="243" y="6" width="1" height="1" fill-opacity="0.510"/>
<rect x="243" y="7" width="1" height="1" fill-opacity="0.314"/>
<rect x="258" y="264" width="1" height="1" fill-opacity="0.373"/>
<rect x="258" y="265" width="1" height="1" fill-opacity="0.451"/>
<rect x="258" y="266" width="1" height="1" fill-opacity="0.549"/>
<rect x="258" y="267" width="1" height="1" fill-opacity="0.490"/>
<rect x="258" y="6" width="1" height="2" fill-opacity="0.529"/>
<rect x="258" y="8" width="1" height="1" fill-opacity="0.471"/>
<rect x="272" y="265" width="1" height="1" fill-opacity="0.157"/>
<rect x="272" y="266" width="1" height="1" fill-opacity="0.451"/>
<rect x="272" y="267" width="1" height="1" fill-opacity="0.471"/>
<rect x="272" y="6" width="1" height="1" fill-opacity="0.510"/>
<rect x="272" y="7" width="1" height="1" fill-opacity="0.314"/>
<rect x="287" y="265" width="1" height="1" fill-opacity="0.157"/>
<rect x="287" y="266" width="1" height="1" fill-opacity="0.451"/>
<rect x="287" y="267" width="1" height="1" fill-opacity="0.471"/>
<rect x="287" y="6" width="1" height="1" fill-opacity="0.510"/>
<rect x="287" y="7" width="1" height="1" fill-opacity="0.314"/>
<rect x="301" y="265" width="1" height="1" fill-opacity="0.157"/>
<rect x="301" y="266" width="1" height="1" fill-opacity="0.451"/>
<rect x="301" y="267" width="1" height="1" fill-opacity="0.471"/>
<rect x="301" y="6" width="1" height="1" fill-opacity="0.510"/>
<rect x="301" y="7" width="1" height="1" fill-opacity="0.314"/>
<rect x="55" y="8" width="3" height="1" fill-opacity="0.216"/>
<rect x="313" y="8" width="3" height="1" fill-opacity="0.216"/>
<rect x="54" y="50" width="1" height="1" fill-opacity="0.322"/>
<rect x="55" y="50" width="1" height="1" fill-opacity="0.216"/>
<rect x="316" y="50" width="1" height="1" fill-opacity="0.216"/>
<rect x="315" y="50" width="1" height="1" fill-opacity="0.145"/>
<rect x="54" y="39" width="1" height="1" fill-opacity="0.322"/>
<rect x="55" y="39" width="1" height="1" fill-opacity="0.216"/>
<rect x="316" y="39" width="1" height="1" fill-opacity="0.216"/>
<rect x="315" y="39" width="1" height="1" fill-opacity="0.145"/>
<rect x="54" y="32" width="1" height="1" fill-opacity="0.322"/>
<rect x="55" y="32" width="1" height="1" fill-opacity="0.216"/>
<rect x="316" y="32" width="1" height="1" fill-opacity="0.216"/>
<rect x="315" y="32" width="1" height="1" fill-opacity="0.145"/>
<rect x="54" y="26" width="1" height="1" fill-opacity="0.322"/>
<rect x="55" y="26" width="1" height="1" fill-opacity="0.216"/>
<rect x="316" y="26" width="1" height="1" fill-opacity="0.216"/>
<rect x="315" y="26" width="1" height="1" fill-opacity="0.145"/>
<rect x="54" y="21" width="1" height="1" fill-opacity="0.322"/>
<rect x="55" y="21" width="1" height="1" fill-opacity="0.216"/>
<rect x="316" y="21" width="1" height="1" fill-opacity="0.216"/>
<rect x="315" y="21" width="1" height="1" fill-opacity="0.145"/>
<rect x="54" y="17" width="1" height="1" fill-opacity="0.322"/>
<rect x="55" y="17" width="1" height="1" fill-opacity="0.216"/>
<rect x="316" y="17" width="1" height="1" fill-opacity="0.216"/>
<rect x="315" y="17" width="1" height="1" fill-opacity="0.145"/>
<rect x="54" y="14" width="1" height="1" fill-opacity="0.322"/>
<rect x="55" y="14" width="1" height="1" fill-opacity="0.216"/>
<rect x="316" y="14" width="1" height="1" fill-opacity="0.216"/>
<rect x="315" y="14" width="1" height="1" fill-opacity="0.145"/>
<rect x="54" y="11" width="1" height="1" fill-opacity="0.322"/>
<rect x="55" y="11" width="1" height="1" fill-opacity="0.216"/>
<rect x="316" y="11" width="1" height="1" fill-opacity="0.216"/>
<rect x="315" y="11" width="1" height="1" fill-opacity="0.145"/>
<rect x="55" y="68" width="3" height="1" fill-opacity="0.255"/>
<rect x="313" y="68" width="3" height="1" fill-opacity="0.255"/>
<rect x="54" y="110" width="1" height="1" fill-opacity="0.322"/>
<rect x="55" y="110" width="1" height="1" fill-opacity="0.216"/>
<rect x="316" y="110" width="1" height="1" fill-opacity="0.216"/>
<rect x="315" y="110" width="1" height="1" fill-opacity="0.145"/>
<rect x="54" y="100" width="1" height="1" fill-opacity="0.322"/>
<rect x="55" y="100" width="1" height="1" fill-opacity="0.216"/>
<rect x="316" y="100" width="1" height="1" fill-opacity="0.216"/>
<rect x="315" y="100" width="1" height="1" fill-opacity="0.145"/>
<rect x="54" y="92" width="1" height="1" fill-opacity="0.322"/>
<rect x="55" y="92" width="1" height="1" fill-opacity="0.216"/>
<rect x="316" y="92" width="1" height="1" fill-opacity="0.216"/>
<rect x="315" y="92" width="1" height="1" fill-opacity="0.145"/>
<rect x="54" y="86" width="1" height="1" fill-opacity="0.322"/>
<rect x="55" y="86" width="1" height="1" fill-opacity="0.216"/>
<rect x="316" y="86" width="1" height="1" fill-opacity="0.216"/>
<rect x="315" y="86" width="1" height="1" fill-opacity="0.145"/>
<rect x="54" y="82" width="1" height="1" fill-opacity="0.322"/>
<rect x="55" y="82" width="1" height="1" fill-opacity="0.216"/>
<rect x="316" y="82" width="1" height="1" fill-opacity="0.216"/>
<rect x="315" y="82" width="1" height="1" fill-opacity="0.145"/>
<rect x="54" y="78" width="1" height="1" fill-opacity="0.322"/>
<rect x="55" y="78" width="1" height="1" fill-opacity="0.216"/>
<rect x="316" y="78" width="1" height="1" fill-opacity="0.216"/>
<rect x="315" y="78" width="1" height="1" fill-opacity="0.145"/>
<rect x="54" y="74" width="1" height="1" fill-opacity="0.322"/>
<rect x="55" y="74" width="1" height="1" fill-opacity="0.216"/>
<rect x="316" y="74" width="1" height="1" fill-opacity="0.216"/>
<rect x="315" y="74" width="1" height="1" fill-opacity="0.145"/>
<rect x="54" y="71" width="1" height="1" fill-opacity="0.322"/>
<rect x="55" y="71" width="1" height="1" fill-opacity="0.216"/>
<rect x="316" y="71" width="1" height="1" fill-opacity="0.216"/>
<rect x="315" y="71" width="1" height="1" fill-opacity="0.145"/>
<rect x="55" y="128" width="3" height="1" fill-opacity="0.118"/>
<rect x="55" y="129" width="3" height="1" fill-opacity="0.196"/>
<rect x="313" y="128" width="3" height="1" fill-opacity="0.118"/>
<rect x="313" y="129" width="3" height="1" fill-opacity="0.196"/>
<rect x="54" y="171" width="1" height="1" fill-opacity="0.322"/>
<rect x="55" y="171" width="1" height="1" fill-opacity="0.216"/>
<rect x="316" y="171" width="1" height="1" fill-opacity="0.216"/>
<rect x="315" y="171" width="1" height="1" fill-opacity="0.145"/>
<rect x="54" y="160" width="1" height="1" fill-opacity="0.322"/>
<rect x="55" y="160" width="1" height="1" fill-opacity="0.216"/>
<rect x="316" y="160" width="1" height="1" fill-opacity="0.216"/>
<rect x="315" y="160" width="1" height="1" fill-opacity="0.145"/>
<rect x="54" y="152" width="1" height="1" fill-opacity="0.322"/>
<rect x="55" y="152" width="1" height="1" fill-opacity="0.216"/>
<rect x="316" y="152" width="1" height="1" fill-opacity="0.216"/>
<rect x="315" y="152" width="1" height="1" fill-opacity="0.145"/>
<rect x="54" y="147" width="1" height="1" fill-opacity="0.322"/>
<rect x="55" y="147" width="1" height="1" fill-opacity="0.216"/>
<rect x="316" y="147" width="1" height="1" fill-opacity="0.216"/>
<rect x="315" y="147" width="1" height="1" fill-opacity="0.145"/>
<rect x="54" y="142" width="1" height="1" fill-opacity="0.322"/>
<rect x="55" y="142" width="1" height="1" fill-opacity="0.216"/>
<rect x="316" y="142" width="1" height="1" fill-opacity="0.216"/>
<rect x="315" y="142" width="1" height="1" fill-opacity="0.145"/>
<rect x="54" y="138" width="1" height="1" fill-opacity="0.322"/>
<rect x="55" y="138" width="1" height="1" fill-opacity="0.216"/>
<rect x="316" y="138" width="1" height="1" fill-opacity="0.216"/>
<rect x="315" y="138" width="1" height="1" fill-opacity="0.145"/>
<rect x="54" y="134" width="1" height="1" fill-opacity="0.322"/>
<rect x="55" y="134" width="1" height="1" fill-opacity="0.216"/>
<rect x="316" y="134" width="1" height="1" fill-opacity="0.216"/>
<rect x="315" y="134" width="1" height="1" fill-opacity="0.145"/>
<rect x="54" y="131" width="1" height="1" fill-opacity="0.322"/>
<rect x="55" y="131" width="1" height="1" fill-opacity="0.216"/>
<rect x="316" y="131" width="1" height="1" fill-opacity="0.216"/>
<rect x="315" y="131" width="1" height="1" fill-opacity="0.145"/>
<rect x="55" y="189" width="3" height="1" fill-opacity="0.522"/>
<rect x="313" y="189" width="3" height="1" fill-opacity="0.522"/>
<rect x="54" y="231" width="1" height="1" fill-opacity="0.322"/>
<rect x="55" y="231" width="1" height="1" fill-opacity="0.216"/>
<rect x="316" y="231" width="1" height="1" fill-opacity="0.216"/>
<rect x="315" y="231" width="1" height="1" fill-opacity="0.145"/>
<rect x="54" y="220" width="1" height="1" fill-opacity="0.322"/>
<rect x="55" y="220" width="1" height="1" fill-opacity="0.216"/>
<rect x="316" y="220" width="1" height="1" fill-opacity="0.216"/>
<rect x="315" y="220" width="1" height="1" fill-opacity="0.145"/>
<rect x="54" y="213" width="1" height="1" fill-opacity="0.322"/>
<rect x="55" y="213" width="1" height="1" fill-opacity="0.216"/>
<rect x="316" y="213" width="1" height="1" fill-opacity="0.216"/>
<rect x="315" y="213" width="1" height="1" fill-opacity="0.145"/>
<rect x="54" y="207" width="1" height="1" fill-opacity="0.322"/>
<rect x="55" y="207" width="1" height="1" fill-opacity="0.216"/>
<rect x="316" y="207" width="1" height="1" fill-opacity="0.216"/>
<rect x="315" y="207" width="1" height="1" fill-opacity="0.145"/>
<rect x="54" y="202" width="1" height="1" fill-opacity="0.322"/>
<rect x="55" y="202" width="1" height="1" fill-opacity="0.216"/>
<rect x="316" y="202" width="1" height="1" fill-opacity="0.216"/>
<rect x="315" y="202" width="1" height="1" fill-opacity="0.145"/>
<rect x="54" y="198" width="1" height="1" fill-opacity="0.322"/>
<rect x="55" y="198" width="1" height="1" fill-opacity="0.216"/>
<rect x="316" y="198" width="1" height="1" fill-opacity="0.216"/>
<rect x="315" y="198" width="1" height="1" fill-opacity="0.145"/>
<rect x="54" y="195" width="1" height="1" fill-opacity="0.322"/>
<rect x="55" y="195" width="1" height="1" fill-opacity="0.216"/>
<rect x="316" y="195" width="1" height="1" fill-opacity="0.216"/>
<rect x="315" y="195" width="1" height="1" fill-opacity="0.145"/>
<rect x="54" y="192" width="1" height="1" fill-opacity="0.322"/>
<rect x="55" y="192" width="1" height="1" fill-opacity="0.216"/>
<rect x="316" y="192" width="1" height="1" fill-opacity="0.216"/>
<rect x="315" y="192" width="1" height="1" fill-opacity="0.145"/>
<rect x="55" y="249" width="3" height="1" fill-opacity="0.353"/>
<rect x="313" y="249" width="3" height="1" fill-opacity="0.353"/>
</g>
<g font-family="'Liberation Serif', serif" fill="#000" style="filter:grayscale(1);text-rendering:geometricPrecision">
<text x="83.51" y="281" font-size="14" text-anchor="middle">0.2</text>
<text x="141.73" y="281" font-size="14" text-anchor="middle">0.4</text>
<text x="199.95" y="281" font-size="14" text-anchor="middle">0.6</text>
<text x="258.17" y="281" font-size="14" text-anchor="middle">0.8</text>
<text x="316.89" y="281" font-size="14" text-anchor="middle">1.0</text>
<text x="51.9" y="11.8" font-size="14" text-anchor="end">1</text>
<text x="51.9" y="71.8" font-size="14" text-anchor="end">0.1</text>
<text x="51.9" y="132.1" font-size="14" text-anchor="end">0.01</text>
<text x="51.9" y="192.3" font-size="14" text-anchor="end">0.001</text>
<text x="27.3" y="255.8" font-size="14">10<tspan font-size="8" dy="-5.8" dx="-0.3">−</tspan><tspan font-size="8" dx="0.6">4</tspan></text>
<text x="137" y="23.9" font-size="13">Z' Z'</text>
<text y="49.8" font-size="13"><tspan x="220" font-style="italic">m</tspan><tspan x="228.9" font-style="italic" font-size="10" y="52.2">X</tspan><tspan x="238.3" y="50.5">=</tspan><tspan x="248.3" y="49.8">350</tspan><tspan x="271.9">GeV</tspan></text>
<text x="154.3" y="103.3" font-size="13">gg</text>
<text x="104.6" y="160.7" font-size="13">XX</text>
<text transform="translate(225.0,213.6) scale(1.25,1)" font-size="13" font-style="italic">γγ</text>
<text x="257.5" y="237.9" font-size="13">Z</text>
<text transform="translate(265.2,238.0) scale(1.2,1)" font-size="13" font-style="italic">γ</text>
<text transform="translate(11.1,147.8) rotate(-90) scale(1.055,1)" font-size="15.5">BR</text>
<text x="176.7" y="300.7" font-size="16" font-style="italic">g</text>
<text transform="translate(185.4,303.8) scale(1.15,1)" font-size="11" font-style="italic">X</text>
</g>
</svg>
</body></html>
